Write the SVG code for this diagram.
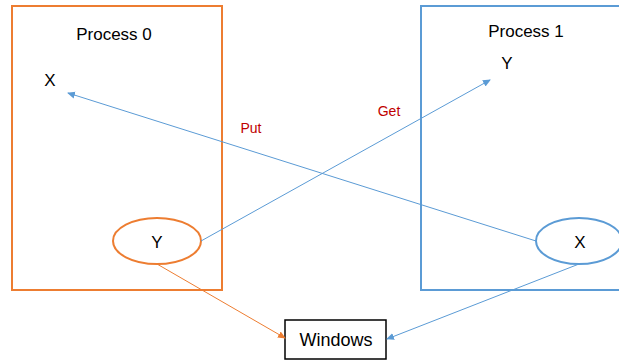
<svg xmlns="http://www.w3.org/2000/svg" width="619" height="361" viewBox="0 0 619 361">
<style>
text{font-family:"Liberation Sans",Arial,sans-serif;fill:#000;text-anchor:middle}
.t{font-size:17px}
.lbl{font-size:14px;fill:#c00000}
.orange{stroke:#ED7D31;fill:none}
.blue{stroke:#5B9BD5;fill:none}
</style>
<defs>
<marker id="ab" markerWidth="8" markerHeight="8" refX="7" refY="4" orient="auto" markerUnits="userSpaceOnUse"><path d="M0,0.5 L8,4 L0,7.5 Z" fill="#5B9BD5"/></marker>
<marker id="ao" markerWidth="8" markerHeight="8" refX="7" refY="4" orient="auto" markerUnits="userSpaceOnUse"><path d="M0,0.5 L8,4 L0,7.5 Z" fill="#ED7D31"/></marker>
</defs>
<rect width="619" height="361" fill="#fff"/>
<g id="process0">
<rect x="12" y="6" width="210" height="284" class="orange" stroke-width="2"/>
<text class="t" x="114" y="40">Process 0</text>
<text class="t" x="50" y="86">X</text>
</g>
<g id="process1">
<rect x="421" y="6" width="210" height="284" class="blue" stroke-width="2"/>
<text class="t" x="526" y="37">Process 1</text>
<text class="t" x="507" y="69">Y</text>
</g>
<g id="y0">
<ellipse cx="157" cy="241" rx="44" ry="23" class="orange" stroke-width="2"/>
<text class="t" x="157" y="248">Y</text>
</g>
<g id="x1">
<ellipse cx="579" cy="241" rx="43" ry="23" class="blue" stroke-width="2"/>
<text class="t" x="580" y="248">X</text>
</g>
<g id="windows">
<rect x="285" y="320" width="101" height="39" fill="none" stroke="#000" stroke-width="1.5"/>
<text x="336" y="346" font-size="18">Windows</text>
</g>
<g id="connectors">
<line x1="536" y1="241" x2="68" y2="93" class="blue" marker-end="url(#ab)"/>
<line x1="201" y1="241" x2="490" y2="80" class="blue" marker-end="url(#ab)"/>
<line x1="157" y1="264" x2="285" y2="338" class="orange" marker-end="url(#ao)"/>
<line x1="579" y1="264" x2="387" y2="339" class="blue" marker-end="url(#ab)"/>
<text class="lbl" x="251" y="133">Put</text>
<text class="lbl" x="389" y="116">Get</text>
</g>
</svg>
